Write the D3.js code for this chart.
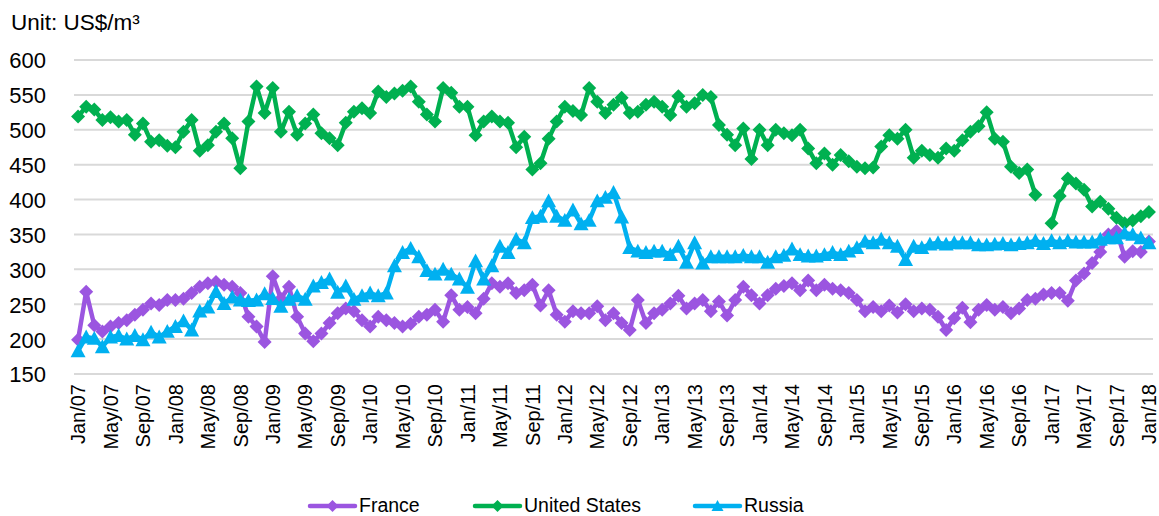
<!DOCTYPE html>
<html>
<head>
<meta charset="utf-8">
<script src="https://cdn.jsdelivr.net/npm/d3@7"></script>
<style>
  body { margin: 0; background: #fff; }
  text { font-family: "Liberation Sans", Arial, sans-serif; fill: #000; }
</style>
</head>
<body>
<div id="chart-area"></div>
<script>
// monthly prices, Jan/07 .. Jan/18 (133 months), US$/m3
var france = [
  199, 268, 220, 211, 218, 223, 227, 235, 242, 251, 249, 256,
  256, 258, 266, 275, 280, 282, 278, 275, 266, 232, 218, 196,
  290, 258, 275, 232, 208, 197, 208, 223, 237, 244, 240, 227,
  218, 232, 227, 223, 218, 222, 232, 235, 242, 225, 263, 242,
  246, 237, 258, 280, 275, 280, 266, 270, 278, 248, 270, 235,
  225, 240, 237, 237, 247, 227, 237, 223, 213, 256, 223, 237,
  242, 251, 262, 244, 251, 256, 240, 254, 234, 256, 275, 263,
  251, 263, 272, 276, 280, 270, 284, 270, 278, 272, 270, 266,
  256, 240, 246, 240, 248, 238, 250, 240, 244, 242, 232, 213,
  230, 245, 224, 242, 249, 242, 246, 237, 244, 256, 258, 264,
  266, 266, 255, 284, 294, 309, 325, 350, 355, 318, 326, 325,
  340
];

var unitedStates = [
  519, 533, 529, 514, 518, 512, 514, 493, 509, 483, 485, 477,
  475, 497, 514, 470, 478, 497, 509, 488, 445, 512, 562, 524,
  560, 497, 526, 493, 509, 522, 495, 488, 478, 510, 526, 531,
  524, 555, 547, 552, 556, 562, 540, 522, 512, 560, 553, 533,
  533, 492, 512, 519, 512, 510, 475, 490, 443, 452, 487, 512,
  533, 527, 521, 560, 540, 524, 536, 546, 524, 526, 536, 540,
  533, 521, 548, 533, 538, 550, 547, 507, 493, 478, 502, 458,
  500, 478, 500, 495, 492, 500, 473, 452, 466, 450, 464, 455,
  447, 445, 446, 476, 492, 487, 500, 460, 470, 464, 460, 473,
  470, 485, 497, 505, 525, 487, 483, 447, 438, 443, 407, null,
  366, 405, 430, 423, 414, 390, 397, 387, 374, 366, 370, 376,
  382
];

var russia = [
  183, 203, 201, 189, 203, 205, 200, 205, 199, 210, 203, 211,
  218, 226, 213, 240, 246, 268, 251, 260, 256, 255, 256, 265,
  258, 247, 257, 262, 257, 276, 281, 286, 267, 276, 257, 262,
  266, 262, 266, 305, 324, 330, 318, 298, 293, 300, 293, 286,
  274, 312, 286, 305, 333, 324, 343, 338, 374, 376, 398, 376,
  370, 385, 365, 370, 398, 403, 410, 375, 331, 326, 324, 326,
  326, 321, 333, 310, 338, 309, 318, 318, 318, 318, 320, 318,
  318, 310, 318, 320, 329, 321, 319, 319, 321, 324, 321, 326,
  331, 340, 338, 343, 338, 333, 314, 333, 331, 336, 338, 336,
  338, 338, 338, 335, 335, 336, 337, 335, 337, 338, 341, 337,
  341, 338, 341, 339, 339, 339, 343, 345, 345, 352, 350, 345,
  338
];

var yTicks = [150, 200, 250, 300, 350, 400, 450, 500, 550, 600];

var monthNames = ["Jan", "Feb", "Mar", "Apr", "May", "Jun",
                  "Jul", "Aug", "Sep", "Oct", "Nov", "Dec"];

// category labels "Jan/07" ... "Jan/18"
var months = [];
for (var yr = 7; yr <= 18; yr++) {
    for (var m = 0; m < 12; m++) {
        if (yr == 18 && m > 0) break;
        months.push(monthNames[m] + "/" + (yr < 10 ? "0" + yr : yr));
    }
}

var series = [
    { name: "France", values: france, color: "#9b55e0", marker: "diamond" },
    { name: "United States", values: unitedStates, color: "#00b050", marker: "diamond" },
    { name: "Russia", values: russia, color: "#00b0f0", marker: "triangle" }
];

var width = 1159, height = 516;

var svg = d3.select("#chart-area").append("svg")
    .attr("width", width)
    .attr("height", height);

var x = d3.scaleBand()
    .domain(months)
    .range([74, 1153]);

var y = d3.scaleLinear()
    .domain([150, 600])
    .range([374, 60]);

function xPos(i) {
    return x(months[i]) + x.bandwidth() / 2;
}

function markerPath(type, r) {
    if (type == "diamond") {
        return "M0," + (-r) + "L" + r + ",0L0," + r + "L" + (-r) + ",0Z";
    }
    return "M0," + (-r) + "L" + r + "," + (r * 0.85) + "L" + (-r) + "," + (r * 0.85) + "Z";
}

// gridlines
svg.append("g").selectAll("line")
    .data(yTicks)
    .enter()
    .append("line")
        .attr("x1", 74)
        .attr("x2", 1153)
        .attr("y1", function(d){ return y(d); })
        .attr("y2", function(d){ return y(d); })
        .attr("stroke", "#d9d9d9")
        .attr("stroke-width", 2);

// y axis labels
var yAxis = d3.axisLeft(y).tickValues(yTicks).tickSize(0).tickPadding(0);
var yAxisG = svg.append("g")
    .attr("transform", "translate(46,0)")
    .call(yAxis);
yAxisG.select(".domain").remove();
yAxisG.selectAll("text")
    .style("font-family", "Liberation Sans, Arial, sans-serif")
    .style("font-size", "22px")
    .attr("fill", "#000")
    .attr("dy", "0.36em");

// x axis labels (every 4 months)
var xAxis = d3.axisBottom(x)
    .tickValues(months.filter(function(d, i){ return i % 4 == 0; }))
    .tickSize(0);
var xAxisG = svg.append("g")
    .attr("transform", "translate(0,384)")
    .call(xAxis);
xAxisG.select(".domain").remove();
xAxisG.selectAll("text")
    .style("font-family", "Liberation Sans, Arial, sans-serif")
    .style("font-size", "20px")
    .attr("fill", "#000")
    .attr("text-anchor", "end")
    .attr("transform", "rotate(-90)")
    .attr("x", 0)
    .attr("y", 0)
    .attr("dy", "0.36em");

// unit label
svg.append("text")
    .attr("x", 11)
    .attr("y", 30)
    .style("font-size", "22.5px")
    .text("Unit: US$/m³");

// series
series.forEach(function(s){
    var line = d3.line()
        .defined(function(d){ return d != null; })
        .x(function(d, i){ return xPos(i); })
        .y(function(d){ return y(d); });

    var g = svg.append("g");

    g.append("path")
        .datum(s.values)
        .attr("fill", "none")
        .attr("stroke", s.color)
        .attr("stroke-width", 4.5)
        .attr("stroke-linejoin", "round")
        .attr("d", line);

    g.selectAll(".pt")
        .data(s.values.map(function(v, i){ return { v: v, i: i }; })
            .filter(function(d){ return d.v != null; }))
        .enter()
        .append("path")
            .attr("class", "pt")
            .attr("transform", function(d){
                return "translate(" + xPos(d.i) + "," + y(d.v) + ")";
            })
            .attr("d", markerPath(s.marker, s.marker == "diamond" ? 7 : 7.5))
            .attr("fill", s.color);
});

// legend
var legendX = [310, 475, 695];
var legend = svg.append("g");
series.forEach(function(s, k){
    var lx = legendX[k];
    legend.append("line")
        .attr("x1", lx)
        .attr("x2", lx + 45)
        .attr("y1", 506)
        .attr("y2", 506)
        .attr("stroke", s.color)
        .attr("stroke-width", 4.5)
        .attr("stroke-linecap", "round");
    legend.append("path")
        .attr("transform", "translate(" + (lx + 22.5) + ",506)")
        .attr("d", markerPath(s.marker, 6))
        .attr("fill", s.color);
    legend.append("text")
        .attr("x", lx + 49)
        .attr("y", 512)
        .style("font-size", "19.5px")
        .text(s.name);
});
</script>
</body>
</html>
